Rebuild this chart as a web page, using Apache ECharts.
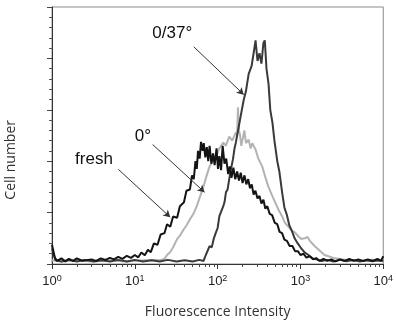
<!DOCTYPE html>
<html><head><meta charset="utf-8">
<script src="https://cdn.jsdelivr.net/npm/echarts@6/dist/echarts.min.js"></script>
<style>html,body{margin:0;padding:0;background:#fff}#c{width:396px;height:324px}</style>
</head><body><div id="c"></div>
<script>
// x ticks (log decades) and minor ticks
var majorTicks = [1, 10, 100, 1000, 10000];
var minorTicks = [2,3,4,5,6,7,8,9,20,30,40,50,60,70,80,90,200,300,400,500,600,700,800,900,2000,3000,4000,5000,6000,7000,8000,9000];

// fresh (black)
var freshX = [1,1.08,1.15,1.3,1.45,1.6,1.8,2.0,2.3,2.6,3.0,3.4,3.9,4.4,5.0,5.6,6.3,7.1,8.0,9.0,10,11,12,13.2,14.4,15.6,17,18.8,20.5,22.8,24.5,26.8,29,32.4,35,39.2,42,46.3,49,51.5,54,56,58,60.7,63,66,68,71,74,77,80,84,88,92,97,101,105,110,115,121,127,134,140,147,155,163,172,181,190,200,211,222,234,246,258,272,286,303,320,338,357,377,398,425,455,490,525,560,600,640,687,740,800,860,930,1000,1090,1180,1290,1420,1550,1700,1900,2100,2350,2650,3000,3400,3900,4400,5000,5700,6500,7500,8500,9400,10000];
var freshY = [7.5,2.5,1.2,2.2,1.0,2.0,1.2,2.2,1.3,1.5,1.8,1.2,2.2,1.6,2.4,1.8,2.8,2.0,3.2,2.4,3.5,2.6,4.5,3.4,5.5,4.6,8,7.5,11.5,12,15.5,14.5,18.5,18,22.5,24,28.5,29,34.5,33,40,37,44,41,47.5,44,47,41.5,45.5,40,46,39,43,38.5,45,37,42,36.5,46,39,41,35,38,33.5,37.5,33,36,32.5,35.5,31.5,34.5,31,33,29.5,31,27,28.5,25.5,26.5,23.5,25,21.5,22.5,19.5,19,16,15.5,12.5,12,9.5,9,7,7,5,5,3.5,4,2.5,3,1.8,2.3,1.2,2,1.2,1.8,1.0,1.8,1.2,2.0,1.2,1.8,1.1,1.8,1.2,2.0,1.2,3.0];

// 0/37° (dark grey)
var warmX = [1,1.1,1.3,1.6,2,2.5,3.2,4,5,6.3,8,10,12.6,16,20,25,32,40,50,60,67.6,72,76,79.9,85,90,95.7,100,105,111,117,121,126,132,138,145,153,160,166,179,191,207,219,237,257,272,287,303,320,338,357,371,389,412,432,459,485,525,556,600,640,687,735,787,850,927,1000,1122,1250,1400,1550,1800,2100,2500,3000,3600,4300,5200,6200,7400,8800,10000];
var warmY = [6,1.5,1.0,1.6,1.0,1.6,1.0,1.5,1.0,1.6,1.0,1.6,1.0,1.5,1.0,1.6,1.0,1.5,1.0,1.6,1.2,3.5,3,7,6.5,10,12.4,14,18.6,19,22.5,24,27.9,29,33,37,40.7,45,47.3,53,58,64,67,74,77,82,87,79,82,78,86,87,76,70,60,55,48,40,36,28,22,19,15,13,10,8,6.5,4.5,3.5,2.2,1.8,1.2,1.6,1.0,1.6,1.1,1.6,1.0,1.5,1.1,1.5,1.2];

// 0° (light grey)
var coldX = [1,1.3,2,3,5,8,12,16,20,22.8,24.5,26.8,29,32.4,35,39.2,42,46.3,51,56,61,67.6,73,79.9,87,95.7,105,117,126,138,150,166,172,176,180,186,193,200,210,220,237,250,262,287,310,345,375,409,450,495,545,600,650,708,780,851,930,1023,1120,1217,1300,1478,1600,1778,1950,2138,2600,3090,3700,4365,5200,6200,7400,8800,10000];
var coldY = [1.5,1.0,1.4,1.0,1.4,1.0,1.4,1.6,1.5,2.0,3.5,4.7,6.5,9.7,11,13.6,15,17.4,19.5,22.5,26,30.2,34,38,40,41.9,45,47.3,46,49.6,48,51.2,50,61,52,50.4,46,48.4,52,47,48.4,45,47,44.6,41,38,34,30.2,27,24,21,18.6,16,14.7,13,12.4,11,9.7,10,10.5,9,7,6,4.7,3.5,3.1,2.2,1.9,1.5,1.2,1.6,1.2,1.7,1.2,1.5];

// annotations: [label, textX, textY, arrowStartX, arrowStartY, arrowEndX, arrowEndY]
var notes = [
  ['0/37°', 28.3, 89.9, 51.6, 84.5, 207, 65.9],
  ['0°', 12.5, 49.6, 16.4, 46.5, 69.6, 27.9],
  ['fresh', 3.21, 40.7, 6.34, 36.8, 26.8, 18.2]
];

function zip(xs, ys){ return xs.map(function(x,i){ return [x, ys[i]]; }); }

var chart = echarts.init(document.getElementById('c'), null, {renderer:'canvas'});
var axisFont = 'Liberation Sans';
chart.setOption({
  animation: false,
  grid: {left: 52, right: 6, top: 7, bottom: 59, show: true, borderColor: '#8c8c8c', borderWidth: 1, backgroundColor: 'transparent'},
  graphic: [{
    type: 'text', left: 4, top: 120, rotation: Math.PI / 2,
    style: {text: 'Cell number', fontFamily: 'Open Sans', fontSize: 14, fill: '#333'}
  }],
  xAxis: [{
    type: 'log', logBase: 10, min: 1, max: 10000, position: 'bottom',
    name: 'Fluorescence Intensity', nameLocation: 'middle', nameGap: 41, nameMoveOverlap: false,
    nameTextStyle: {fontFamily: 'Open Sans', fontSize: 14, color: '#333'},
    axisLine: {lineStyle: {color: '#333', width: 1}},
    axisTick: {length: 5, lineStyle: {color: '#333'}, customValues: majorTicks},
    axisLabel: {
      customValues: majorTicks, margin: 10,
      formatter: function(v){ return '10{s|' + Math.round(Math.log10(v)) + '}'; },
      fontFamily: axisFont, fontSize: 13, color: '#222',
      rich: {s: {fontFamily: axisFont, fontSize: 9, color: '#222', verticalAlign: 'top', padding: [0,0,6,0]}}
    },
    splitLine: {show: false}
  }, {
    type: 'log', logBase: 10, min: 1, max: 10000, position: 'bottom',
    axisLine: {show: false},
    axisTick: {length: 3, lineStyle: {color: '#444'}, customValues: minorTicks},
    axisLabel: {show: false},
    splitLine: {show: false}
  }],
  yAxis: {
    type: 'value', min: 0, max: 100, interval: 20,
    axisLine: {show: true, lineStyle: {color: '#333'}},
    axisTick: {show: true, length: 5, lineStyle: {color: '#444'}},
    minorTick: {show: true, splitNumber: 5, length: 3, lineStyle: {color: '#555'}},
    axisLabel: {show: false},
    splitLine: {show: false}
  },
  series: [
    {type: 'line', name: '0°', data: zip(coldX, coldY), showSymbol: false, symbol: 'none',
     lineStyle: {color: '#b3b3b3', width: 2}, z: 2},
    {type: 'line', name: '0/37°', data: zip(warmX, warmY), showSymbol: false, symbol: 'none',
     lineStyle: {color: '#3a3a3a', width: 2}, z: 3},
    {type: 'line', name: 'fresh', data: zip(freshX, freshY), showSymbol: false, symbol: 'none',
     lineStyle: {color: '#141414', width: 2}, z: 4,
     markLine: {
       silent: true, symbol: ['none', 'arrow'], symbolSize: [6, 7],
       lineStyle: {color: '#333', width: 1, type: 'solid'}, label: {show: false},
       data: notes.map(function(n){ return [{coord: [n[3], n[4]]}, {coord: [n[5], n[6]]}]; })
     },
     markPoint: {
       silent: true, symbol: 'circle', symbolSize: 0,
       label: {show: true, position: 'inside', formatter: '{b}', fontFamily: axisFont, fontSize: 17, color: '#111'},
       data: notes.map(function(n){ return {name: n[0], coord: [n[1], n[2]]}; })
     }}
  ]
});
</script>
</body></html>
